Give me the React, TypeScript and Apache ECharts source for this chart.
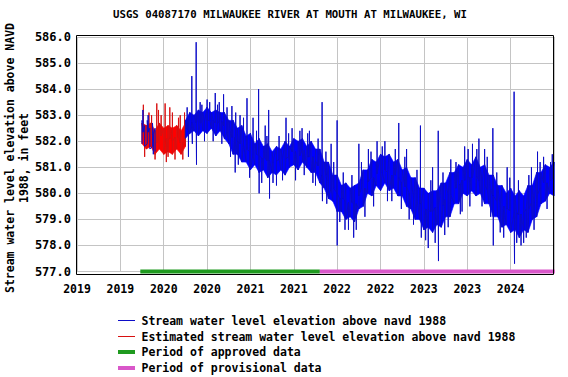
import React, { useEffect, useRef } from "react";
import * as echarts from "echarts";

const FONT = "DejaVu Sans Mono";
const TITLE = "USGS 04087170 MILWAUKEE RIVER AT MOUTH AT MILWAUKEE, WI";
const Y_NAME = "Stream water level elevation above NAVD\n1988, in feet";
const NAME_LEVEL = "Stream water level elevation above navd 1988";
const NAME_EST = "Estimated stream water level elevation above navd 1988";
const NAME_APPROVED = "Period of approved data";
const NAME_PROVISIONAL = "Period of provisional data";

const X_MIN = 2019;
const X_MAX = 2024.5;
const X_STEP = 0.5;
const Y_MIN = 577;
const Y_MAX = 586;
const Y_STEP = 1;

// first short blue stretch (overlapping the estimated record)
const blueTimesA = [2019.75, 2019.78, 2019.81, 2019.84, 2019.87, 2019.9];
const blueLowsA = [581.9, 581.8, 581.9, 581.7, 581.8, 581.6];
const blueHighsA = [582.8, 582.6, 582.8, 582.5, 582.7, 582.5];

// main blue record: lower / upper edge of the daily band
const blueTimesB = [
  2020.25, 2020.3, 2020.35, 2020.4, 2020.45, 2020.5, 2020.55, 2020.6, 2020.65, 2020.7,
  2020.75, 2020.8, 2020.85, 2020.9, 2020.95, 2021.0, 2021.05, 2021.1, 2021.15, 2021.2,
  2021.25, 2021.3, 2021.35, 2021.4, 2021.45, 2021.5, 2021.55, 2021.6, 2021.65, 2021.7,
  2021.75, 2021.8, 2021.85, 2021.9, 2021.95, 2022.0, 2022.05, 2022.1, 2022.15, 2022.2,
  2022.25, 2022.3, 2022.35, 2022.4, 2022.45, 2022.5, 2022.55, 2022.6, 2022.65, 2022.7,
  2022.75, 2022.8, 2022.85, 2022.9, 2022.95, 2023.0, 2023.05, 2023.1, 2023.15, 2023.2,
  2023.25, 2023.3, 2023.35, 2023.4, 2023.45, 2023.5, 2023.55, 2023.6, 2023.65, 2023.7,
  2023.75, 2023.8, 2023.85, 2023.9, 2023.95, 2024.0, 2024.05, 2024.1, 2024.15, 2024.2,
  2024.25, 2024.3, 2024.35, 2024.4, 2024.45, 2024.5,
];
const blueLowsB = [
  582.1, 582.3, 582.4, 582.2, 582.4, 582.3, 582.5, 582.2, 582.4, 582.1,
  581.9, 581.5, 581.5, 581.2, 581.2, 580.9, 581.1, 580.8, 580.9, 580.6,
  580.8, 580.7, 580.9, 580.7, 581.0, 581.1, 580.9, 581.2, 581.0, 580.8,
  580.8, 580.4, 580.2, 579.8, 579.7, 579.3, 579.3, 579.0, 579.1, 578.9,
  579.4, 579.5, 580.0, 579.9, 580.3, 580.1, 580.4, 580.1, 580.2, 579.9,
  579.9, 579.5, 579.4, 579.0, 579.0, 578.6, 578.7, 578.5, 578.8, 578.7,
  579.1, 579.1, 579.6, 579.6, 580.0, 579.9, 580.1, 579.9, 580.0, 579.6,
  579.6, 579.1, 579.1, 578.7, 578.8, 578.5, 578.6, 578.3, 578.6, 578.5,
  579.0, 579.1, 579.6, 579.7, 580.0, 579.9,
];
const blueHighsB = [
  582.8, 583.1, 583.0, 583.2, 583.1, 583.3, 583.1, 583.2, 583.1, 583.1,
  582.8, 582.8, 582.5, 582.6, 582.2, 582.3, 581.9, 582.1, 581.8, 581.9,
  581.6, 581.8, 581.7, 582.0, 581.8, 582.1, 582.0, 582.1, 581.8, 582.0,
  581.7, 581.7, 581.2, 581.2, 580.7, 580.7, 580.3, 580.4, 580.2, 580.3,
  580.4, 580.9, 580.9, 581.3, 581.2, 581.5, 581.4, 581.5, 581.2, 581.3,
  580.9, 581.0, 580.6, 580.6, 580.2, 580.2, 580.0, 580.1, 580.1, 580.4,
  580.4, 580.8, 580.8, 581.1, 581.0, 581.3, 581.1, 581.4, 581.0, 581.1,
  580.7, 580.7, 580.3, 580.3, 580.0, 580.2, 579.9, 580.1, 579.9, 580.3,
  580.3, 580.8, 580.8, 581.1, 581.0, 581.2,
];

// isolated peaks / dips of the blue record
const blueSpikeTimes = [
  2019.76, 2019.82, 2019.88,
  2020.285, 2020.324, 2020.374, 2020.378, 2020.42, 2020.5, 2020.594, 2020.64, 2020.69,
  2020.786, 2020.824, 2020.88, 2020.96, 2021.03, 2021.094, 2021.1, 2021.17, 2021.21,
  2021.22, 2021.3, 2021.41, 2021.48, 2021.52, 2021.595, 2021.68, 2021.75, 2021.826,
  2021.83, 2021.93, 2021.999, 2022.0, 2022.09, 2022.19, 2022.25, 2022.36, 2022.46,
  2022.55, 2022.63, 2022.71, 2022.8, 2022.88, 2022.96, 2022.97, 2023.05, 2023.1,
  2023.165, 2023.168, 2023.24, 2023.31, 2023.42, 2023.47, 2023.56, 2023.634, 2023.7,
  2023.795, 2023.8, 2023.88, 2023.96, 2024.04, 2024.045, 2024.12, 2024.18, 2024.24,
  2024.31, 2024.38, 2024.46,
];
const blueSpikeTips = [
  583.2, 583.0, 581.5,
  581.4, 584.5, 585.8, 581.1, 583.5, 583.6, 583.85, 583.5, 583.8,
  583.35, 580.8, 583.0, 583.65, 582.9, 584.0, 580.0, 582.6, 583.2,
  579.8, 580.3, 582.9, 582.5, 580.5, 582.5, 582.4, 580.3, 583.5,
  579.7, 581.9, 582.8, 578.0, 578.6, 578.3, 581.9, 581.7, 582.0,
  582.0, 579.7, 582.7, 581.7, 578.8, 582.6, 578.3, 577.9, 581.0,
  582.4, 577.4, 578.4, 581.3, 579.2, 581.8, 581.9, 582.1, 581.7,
  582.5, 578.0, 578.5, 581.0, 583.9, 577.3, 578.0, 578.3, 581.0,
  581.6, 581.4, 581.2,
];
// smaller excursions along the edges of the blue band
const blueFuzzTimes = [
  2020.27, 2020.33, 2020.44, 2020.47, 2020.53, 2020.57, 2020.62, 2020.67, 2020.73, 2020.77,
  2020.83, 2020.86, 2020.92, 2020.99, 2021.07, 2021.13, 2021.19, 2021.26, 2021.33, 2021.37,
  2021.44, 2021.57, 2021.62, 2021.66, 2021.72, 2021.78, 2021.87, 2021.88, 2021.96, 2022.03,
  2022.07, 2022.13, 2022.17, 2022.22, 2022.28, 2022.32, 2022.39, 2022.42, 2022.52, 2022.58,
  2022.67, 2022.74, 2022.78, 2022.83, 2022.92, 2023.02, 2023.08, 2023.13, 2023.22, 2023.28,
  2023.37, 2023.44, 2023.51, 2023.53, 2023.61, 2023.67, 2023.73, 2023.77, 2023.84, 2023.92,
  2023.99, 2024.07, 2024.09, 2024.15, 2024.21, 2024.27, 2024.34, 2024.42, 2024.48,
];
const blueFuzzTips = [
  583.3, 581.9, 583.4, 582.0, 583.5, 582.0, 583.4, 581.9, 583.3, 581.4,
  583.1, 581.1, 582.9, 580.6, 582.4, 580.4, 582.2, 580.4, 582.2, 580.5,
  582.3, 582.4, 580.7, 582.3, 580.4, 582.1, 581.6, 579.6, 581.2, 578.9,
  580.8, 578.6, 580.7, 578.6, 581.2, 579.1, 581.6, 579.5, 581.8, 579.7,
  581.7, 579.4, 581.4, 579.0, 580.9, 578.2, 580.5, 578.1, 580.8, 578.7,
  581.2, 579.3, 581.7, 579.5, 581.7, 579.5, 581.4, 579.1, 580.8, 578.3,
  580.6, 578.1, 580.5, 578.1, 580.7, 578.6, 581.2, 579.4, 581.5,
];

// estimated (red) record
const redTimes = [2019.75, 2019.8, 2019.85, 2019.9, 2019.95, 2020.0, 2020.05, 2020.1, 2020.15, 2020.2, 2020.25];
const redLows = [581.9, 581.7, 581.8, 581.5, 581.7, 581.5, 581.6, 581.5, 581.7, 581.5, 581.8];
const redHighs = [582.7, 582.6, 582.7, 582.4, 582.7, 582.5, 582.6, 582.5, 582.6, 582.4, 582.7];
const redSpikeTimes = [
  2019.765, 2019.78, 2019.83, 2019.86, 2019.9, 2019.92, 2019.94, 2019.97, 2020.016, 2020.03,
  2020.05, 2020.07, 2020.1, 2020.13, 2020.17, 2020.19, 2020.22, 2020.24,
];
const redSpikeTips = [
  583.4, 581.4, 583.1, 583.0, 581.3, 583.45, 583.2, 583.0, 583.45, 581.2,
  581.4, 583.3, 583.1, 581.3, 582.9, 583.0, 581.3, 583.1,
];

// data-quality periods (start, end)
const approvedPeriod = [2019.73, 2021.8];
const provisionalPeriod = [2021.8, 2024.51];
const PERIOD_LEVEL = 577;

const BLUE = "#0000ff";
const BLUE_LINE = "#0c0cc8";
const RED = "#ff0000";
const RED_LINE = "#d81010";
const GREEN = "#1f9a1f";
const PINK = "#d957c9";

function trace(times: number[], lows: number[], highs: number[], spikeT: number[], spikeV: number[]) {
  const pts: any[] = [];
  times.forEach((t, i) => {
    if (i % 2 === 0) pts.push([t, lows[i]], [t, highs[i]]);
    else pts.push([t, highs[i]], [t, lows[i]]);
  });
  const t0 = times[0] - 0.02;
  const t1 = times[times.length - 1] + 0.02;
  spikeT.forEach((ts, k) => {
    if (ts < t0 || ts > t1) return;
    let j = 0;
    let best = Infinity;
    times.forEach((t, i) => {
      const d = Math.abs(t - ts);
      if (d < best) {
        best = d;
        j = i;
      }
    });
    const base = (lows[j] + highs[j]) / 2;
    pts.push([ts, base], [ts, spikeV[k]], [ts, base]);
  });
  pts.sort((a, b) => a[0] - b[0]);
  return pts;
}

function bandSeries(id: string, times: number[], lows: number[], highs: number[], color: string) {
  const items = times.slice(0, -1).map((t, i) => [t, lows[i], highs[i], times[i + 1], lows[i + 1], highs[i + 1]]);
  return {
    type: "custom",
    name: id,
    data: items,
    encode: { x: 0, y: 1 },
    silent: true,
    z: 2,
    renderItem: (params: any, api: any) => {
      const a = api.coord([api.value(0), api.value(1)]);
      const b = api.coord([api.value(0), api.value(2)]);
      const c = api.coord([api.value(3), api.value(5)]);
      const d = api.coord([api.value(3), api.value(4)]);
      return {
        type: "polygon",
        shape: { points: [a, b, c, d] },
        style: { fill: color, stroke: color, lineWidth: 0.6 },
      };
    },
  };
}

function legendRow(y: number, color: string, width: number, label: string) {
  return {
    type: "group",
    children: [
      {
        type: "line",
        shape: { x1: 118, y1: y, x2: 135, y2: y },
        style: { stroke: color, lineWidth: width },
        silent: true,
      },
      {
        type: "text",
        x: 141.5,
        y: y,
        style: {
          text: label,
          fontFamily: FONT,
          fontSize: 11.5,
          fontWeight: "bold",
          fill: "#000",
          verticalAlign: "middle",
          align: "left",
        },
        silent: true,
      },
    ],
  };
}

export default function App() {
  const ref = useRef<HTMLDivElement>(null);
  useEffect(() => {
    if (!ref.current) return;
    const chart = echarts.init(ref.current, undefined, { renderer: "svg" });
    const blueData = [
      ...trace(blueTimesA, blueLowsA, blueHighsA, blueSpikeTimes, blueSpikeTips),
      [2020.0, null],
      ...trace(
        blueTimesB,
        blueLowsB,
        blueHighsB,
        blueSpikeTimes.concat(blueFuzzTimes),
        blueSpikeTips.concat(blueFuzzTips)
      ),
    ];
    const redData = trace(redTimes, redLows, redHighs, redSpikeTimes, redSpikeTips);
    const option: any = {
      animation: false,
      backgroundColor: "#ffffff",
      title: {
        text: TITLE,
        left: 290,
        top: 9,
        padding: 0,
        textAlign: "center",
        textStyle: { fontFamily: FONT, fontSize: 10.7, fontWeight: "bold", color: "#000" },
      },
      grid: { left: 77, right: 14, top: 37, bottom: 105.5, containLabel: false, outerBoundsMode: "none" },
      xAxis: {
        type: "value",
        min: X_MIN,
        max: X_MAX,
        interval: X_STEP,
        axisLine: { show: false },
        axisTick: { show: false },
        splitLine: { show: true, lineStyle: { color: "#c4c4c4", width: 1 } },
        axisLabel: {
          showMaxLabel: false,
          margin: 11,
          fontFamily: FONT,
          fontSize: 11.5,
          fontWeight: "bold",
          color: "#000",
          formatter: (v: number) => String(Math.floor(v + 1e-6)),
        },
      },
      yAxis: {
        type: "value",
        min: Y_MIN,
        max: Y_MAX,
        interval: Y_STEP,
        axisLine: { show: false },
        axisTick: { show: false },
        splitLine: { show: true, lineStyle: { color: "#c4c4c4", width: 1 } },
        axisLabel: {
          margin: 6,
          fontFamily: FONT,
          fontSize: 12,
          fontWeight: "bold",
          color: "#000",
          formatter: (v: number) => v.toFixed(1),
        },
      },
      graphic: [
        {
          type: "rect",
          shape: { x: 76.5, y: 35.5, width: 477, height: 239 },
          style: { fill: "none", stroke: "#000", lineWidth: 1 },
          z: 100,
          silent: true,
        },
        {
          type: "text",
          x: 17,
          y: 158,
          rotation: Math.PI / 2,
          silent: true,
          style: {
            text: Y_NAME,
            fontFamily: FONT,
            fontSize: 11.5,
            fontWeight: "bold",
            lineHeight: 14,
            fill: "#000",
            align: "center",
            verticalAlign: "middle",
          },
        },
        legendRow(320.5, BLUE_LINE, 1, NAME_LEVEL),
        legendRow(336.5, RED_LINE, 1, NAME_EST),
        legendRow(352, GREEN, 4, NAME_APPROVED),
        legendRow(368, PINK, 4, NAME_PROVISIONAL),
      ],
      series: [
        bandSeries("redBand", redTimes, redLows, redHighs, RED),
        bandSeries("blueBand", blueTimesB, blueLowsB, blueHighsB, BLUE),
        {
          type: "line",
          name: NAME_EST,
          data: redData,
          symbol: "none",
          showSymbol: false,
          connectNulls: false,
          lineStyle: { color: RED_LINE, width: 1 },
          itemStyle: { color: RED_LINE },
          z: 3,
        },
        {
          type: "line",
          name: NAME_LEVEL,
          data: blueData,
          symbol: "none",
          showSymbol: false,
          connectNulls: false,
          lineStyle: { color: BLUE_LINE, width: 1 },
          itemStyle: { color: BLUE_LINE },
          z: 4,
        },
        {
          type: "line",
          name: NAME_APPROVED,
          data: approvedPeriod.map((t) => [t, PERIOD_LEVEL]),
          symbol: "none",
          clip: false,
          lineStyle: { color: GREEN, width: 4, cap: "butt" },
          itemStyle: { color: GREEN },
          z: 5,
        },
        {
          type: "line",
          name: NAME_PROVISIONAL,
          data: provisionalPeriod.map((t) => [t, PERIOD_LEVEL]),
          symbol: "none",
          clip: false,
          lineStyle: { color: PINK, width: 4, cap: "butt" },
          itemStyle: { color: PINK },
          z: 5,
        },
      ],
    };
    chart.setOption(option);
    return () => chart.dispose();
  }, []);
  return (
    <div
      ref={ref}
      style={{ position: "absolute", left: 0, top: 0, width: 568, height: 377, background: "#fff" }}
    />
  );
}
